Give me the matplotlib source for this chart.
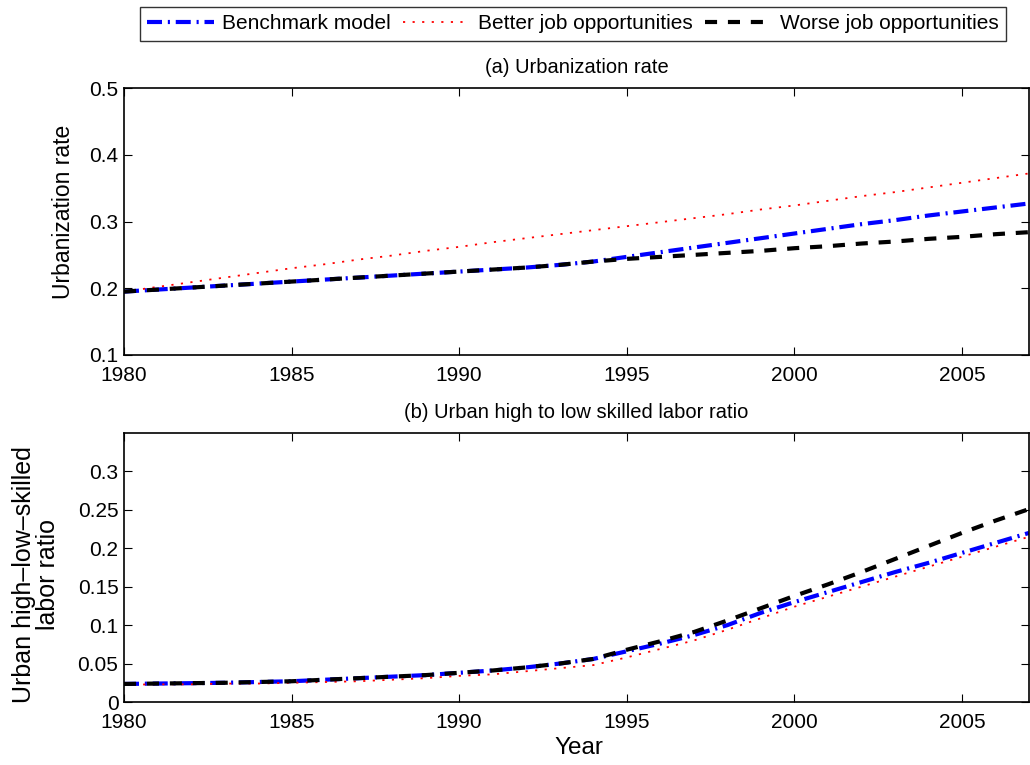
import matplotlib
matplotlib.use("Agg")
import matplotlib.pyplot as plt
from matplotlib.ticker import FuncFormatter

plt.rcParams['font.family'] = ['Liberation Sans', 'DejaVu Sans']

years = list(range(1980, 2008))

# Panel (a): urbanization rate
urb_bench = [0.195, 0.198, 0.201, 0.204, 0.207, 0.210, 0.213, 0.216, 0.219, 0.222,
             0.225, 0.228, 0.231, 0.235, 0.240, 0.247, 0.254, 0.261, 0.268, 0.275,
             0.282, 0.289, 0.296, 0.302, 0.309, 0.315, 0.321, 0.327]
urb_better = [0.195, 0.202, 0.209, 0.216, 0.223, 0.230, 0.236, 0.243, 0.249, 0.256,
              0.262, 0.269, 0.275, 0.281, 0.287, 0.293, 0.299, 0.305, 0.311, 0.318,
              0.324, 0.331, 0.338, 0.344, 0.351, 0.358, 0.365, 0.372]
urb_worse = [0.195, 0.198, 0.201, 0.204, 0.207, 0.210, 0.213, 0.216, 0.219, 0.222,
             0.225, 0.228, 0.231, 0.235, 0.240, 0.244, 0.247, 0.250, 0.253, 0.256,
             0.260, 0.263, 0.267, 0.270, 0.274, 0.277, 0.281, 0.284]

# Panel (b): urban high-to-low skilled labor ratio
ratio_bench = [0.0235, 0.024, 0.0245, 0.025, 0.026, 0.027, 0.029, 0.031, 0.033, 0.035,
               0.038, 0.041, 0.045, 0.050, 0.056, 0.066, 0.076, 0.087, 0.100, 0.116,
               0.130, 0.143, 0.156, 0.169, 0.181, 0.194, 0.207, 0.220]
ratio_better = [0.0225, 0.023, 0.023, 0.024, 0.024, 0.025, 0.026, 0.027, 0.029, 0.031,
                0.034, 0.036, 0.040, 0.044, 0.048, 0.058, 0.069, 0.080, 0.094, 0.109,
                0.124, 0.137, 0.150, 0.163, 0.176, 0.189, 0.202, 0.215]
ratio_worse = [0.0235, 0.024, 0.0245, 0.025, 0.026, 0.027, 0.029, 0.031, 0.033, 0.035,
               0.038, 0.041, 0.045, 0.050, 0.056, 0.068, 0.079, 0.091, 0.106, 0.122,
               0.138, 0.153, 0.169, 0.186, 0.203, 0.220, 0.236, 0.251]

labels = ["Benchmark model", "Better job opportunities", "Worse job opportunities"]
xticks = [1980, 1985, 1990, 1995, 2000, 2005]
yticks_a = [0.1, 0.2, 0.3, 0.4, 0.5]
yticks_b = [0, 0.05, 0.1, 0.15, 0.2, 0.25, 0.3]

fig = plt.figure(figsize=(10.3, 7.65), dpi=100)
W, H = 1030.0, 765.0
ax1 = fig.add_axes([124 / W, 1 - 355 / H, 905 / W, 267 / H])
ax2 = fig.add_axes([124 / W, 1 - 702 / H, 905 / W, 269 / H])

styles = [
    dict(color='blue', lw=3.0, linestyle=(0, (3.6, 1.4, 0.5, 1.4))),
    dict(color='red', lw=1.3, linestyle=(0, (1.2, 4.1))),
    dict(color='black', lw=3.0, linestyle=(0, (2.9, 2.6))),
]

handles = []
for data, st, lab in zip([urb_bench, urb_better, urb_worse], styles, labels):
    h, = ax1.plot(years, data, label=lab, **st)
    handles.append(h)
for data, st in zip([ratio_bench, ratio_better, ratio_worse], styles):
    ax2.plot(years, data, **st)

fmt = FuncFormatter(lambda v, p: ('%g' % round(v, 4)))
for ax in (ax1, ax2):
    ax.set_xlim(1980, 2007)
    ax.set_xticks(xticks)
    ax.tick_params(direction='in', top=True, right=True, length=5.8, width=0.8,
                   labelsize=15)
    ax.tick_params(axis='x', pad=8)
    ax.tick_params(axis='y', pad=4)
    ax.yaxis.set_major_formatter(fmt)
    for s in ax.spines.values():
        s.set_linewidth(1.2)

ax1.set_ylim(0.1, 0.5)
ax1.set_yticks(yticks_a)
ax1.set_ylabel("Urbanization rate", fontsize=16.5)
ax1.yaxis.label.set_verticalalignment('center')
ax1.yaxis.set_label_coords((63 - 124) / 905, (355 - 211.5) / 267)
ax1.set_title("(a) Urbanization rate", fontsize=14.5, pad=10.5)

ax2.set_ylim(0, 0.35)
ax2.set_yticks(yticks_b)
ax2.set_ylabel("Urban high\u2013low\u2013skilled\nlabor ratio", fontsize=18,
               linespacing=1.0)
ax2.yaxis.label.set_verticalalignment('center')
ax2.yaxis.set_label_coords((36 - 124) / 905, (702 - 575) / 269)
ax2.set_title("(b) Urban high to low skilled labor ratio", fontsize=14.5, pad=11)
ax2.set_xlabel("Year", fontsize=17.5)
ax2.xaxis.label.set_verticalalignment('center')
ax2.xaxis.set_label_coords((579 - 124) / 905, (702 - 748) / 269)

leg = fig.legend(handles=handles, labels=labels, loc='upper center',
                 bbox_to_anchor=(573 / W, 1 - 7 / H), ncol=3, fontsize=15,
                 frameon=True, fancybox=False, edgecolor='black',
                 handlelength=3.2, handletextpad=0.4, columnspacing=0.6,
                 borderpad=0.35, borderaxespad=0.0)
leg.get_frame().set_linewidth(1.0)

fig.savefig("out.png", dpi=100)
